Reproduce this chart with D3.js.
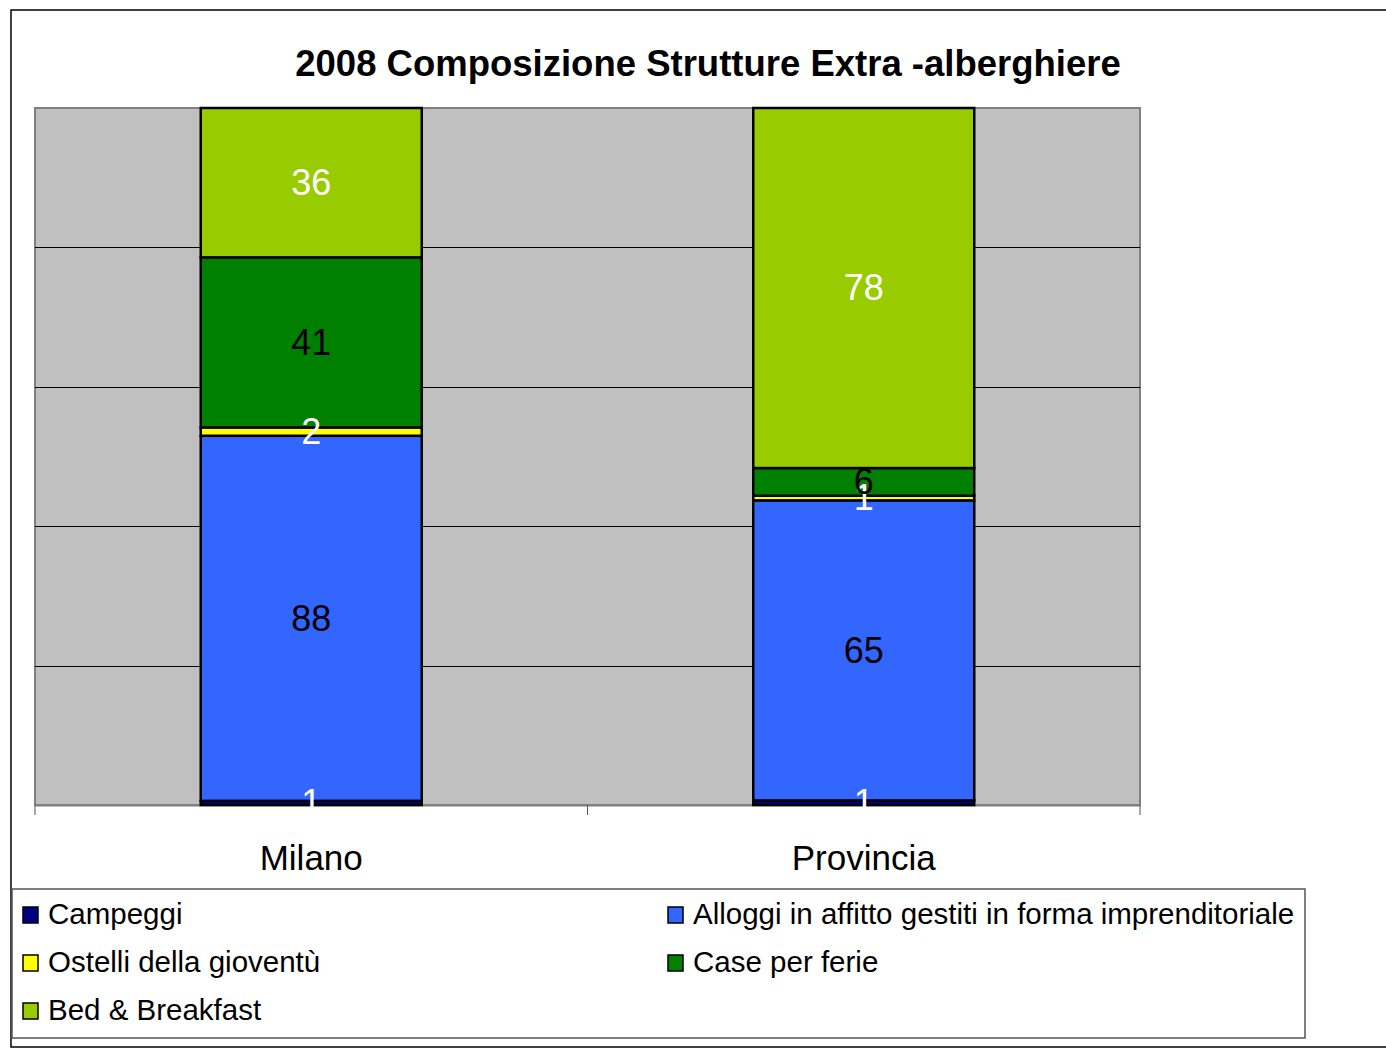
<!DOCTYPE html>
<html>
<head>
<meta charset="utf-8">
<title>2008 Composizione Strutture Extra -alberghiere</title>
<script src="https://cdn.jsdelivr.net/npm/d3@7/dist/d3.min.js"></script>
<style>
  body { margin: 0; background: #fff; }
  text { font-family: "Liberation Sans", Arial, sans-serif; }
</style>
</head>
<body>
<script>
// dati
var categories = ["Milano", "Provincia"];
var seriesNames = ["Campeggi", "Alloggi in affitto gestiti in forma imprenditoriale",
                   "Ostelli della gioventù", "Case per ferie", "Bed & Breakfast"];
var campeggi = [1, 1];
var alloggi = [88, 65];
var ostelli = [2, 1];
var casePerFerie = [41, 6];
var bedBreakfast = [36, 78];
var gridTicks = [0.2, 0.4, 0.6, 0.8];

var colors = ["#000080", "#3366FF", "#FFFF00", "#008000", "#99CC00"];
var labelColors = ["#fff", "#000", "#fff", "#000", "#fff"];

var W = 1386, H = 1052;
var plot = { left: 35, right: 1140, top: 108, bottom: 805 };

var svg = d3.select("body").append("svg")
  .attr("width", W).attr("height", H);

// cornice esterna
svg.append("rect")
  .attr("x", 11).attr("y", 10).attr("width", W + 10).attr("height", 1037)
  .attr("fill", "#fff").attr("stroke", "#000").attr("stroke-width", 1.5);

// titolo
svg.append("text")
  .attr("x", 708).attr("y", 76)
  .attr("text-anchor", "middle")
  .style("font-size", "36.5px").style("font-weight", "bold")
  .text("2008 Composizione Strutture Extra -alberghiere");

// tabella per lo stack
var keys = ["c", "a", "o", "f", "b"];
var table = categories.map(function (c, i) {
  return { cat: c, c: campeggi[i], a: alloggi[i], o: ostelli[i], f: casePerFerie[i], b: bedBreakfast[i] };
});
var stacked = d3.stack().keys(keys).offset(d3.stackOffsetExpand)(table);

var xScale = d3.scaleBand().domain(categories)
  .range([plot.left, plot.right]).paddingInner(0).paddingOuter(0);
var yScale = d3.scaleLinear().domain([0, 1]).range([plot.bottom, plot.top]);

// sfondo area del grafico
svg.append("rect")
  .attr("x", plot.left).attr("y", plot.top)
  .attr("width", plot.right - plot.left).attr("height", plot.bottom - plot.top)
  .attr("fill", "#C0C0C0").attr("stroke", "#808080").attr("stroke-width", 2);

// griglia
svg.append("g").selectAll("line").data(gridTicks).enter().append("line")
  .attr("x1", plot.left).attr("x2", plot.right)
  .attr("y1", function (d) { return Math.round(yScale(d)) + 0.5; })
  .attr("y2", function (d) { return Math.round(yScale(d)) + 0.5; })
  .attr("stroke", "#000").attr("stroke-width", 1);

// asse x
var xAxis = d3.axisBottom(xScale).tickSize(0).tickFormat("");
var gx = svg.append("g")
  .attr("transform", "translate(0," + plot.bottom + ")")
  .call(xAxis);
gx.select(".domain").attr("stroke", "#808080").attr("stroke-width", 2);
var bounds = [plot.left, plot.left + xScale.step(), plot.right];
gx.selectAll(".sep").data(bounds).enter().append("line")
  .attr("x1", function (d) { return d; }).attr("x2", function (d) { return d; })
  .attr("y1", 0).attr("y2", 10)
  .attr("stroke", "#555").attr("stroke-width", 1);

svg.append("g").selectAll("text").data(categories).enter().append("text")
  .attr("x", function (d) { return xScale(d) + xScale.bandwidth() / 2; })
  .attr("y", 870)
  .attr("text-anchor", "middle")
  .style("font-size", "35px")
  .text(function (d) { return d; });

// barre
var barW = xScale.bandwidth() * 0.4;
var layers = svg.append("g").selectAll("g").data(stacked).enter().append("g")
  .attr("fill", function (d, i) { return colors[i]; });

layers.selectAll("rect").data(function (d) { return d; }).enter().append("rect")
  .attr("x", function (d) { return xScale(d.data.cat) + (xScale.bandwidth() - barW) / 2; })
  .attr("y", function (d) { return yScale(d[1]); })
  .attr("width", barW)
  .attr("height", function (d) { return yScale(d[0]) - yScale(d[1]); })
  .attr("stroke", "#000").attr("stroke-width", 2.5);

// etichette dei valori (sopra tutte le barre)
var labels = svg.append("g").selectAll("g").data(stacked).enter().append("g")
  .attr("fill", function (d, i) { return labelColors[i]; });
labels.each(function (layer) {
  d3.select(this).selectAll("text").data(layer).enter().append("text")
    .attr("x", function (d) { return xScale(d.data.cat) + xScale.bandwidth() / 2; })
    .attr("y", function (d) { return (yScale(d[0]) + yScale(d[1])) / 2; })
    .attr("dy", "0.34em")
    .attr("text-anchor", "middle")
    .style("font-size", "36px")
    .text(function (d) { return d.data[layer.key]; });
});

// legenda
var legend = svg.append("g");
legend.append("rect")
  .attr("x", 12).attr("y", 889).attr("width", 1293).attr("height", 149)
  .attr("fill", "#fff").attr("stroke", "#555").attr("stroke-width", 1.5);

var order = [0, 1, 2, 3, 4];
var items = legend.selectAll("g.item").data(order).enter().append("g")
  .attr("transform", function (d) {
    var col = d % 2, row = Math.floor(d / 2);
    return "translate(" + (col === 0 ? 23 : 668) + "," + (907 + row * 48) + ")";
  });
items.append("rect")
  .attr("width", 15).attr("height", 16)
  .attr("fill", function (d) { return colors[d]; })
  .attr("stroke", "#000").attr("stroke-width", 1.5);
items.append("text")
  .attr("x", 25).attr("y", 17)
  .style("font-size", "29.5px")
  .text(function (d) { return seriesNames[d]; });
</script>
</body>
</html>
